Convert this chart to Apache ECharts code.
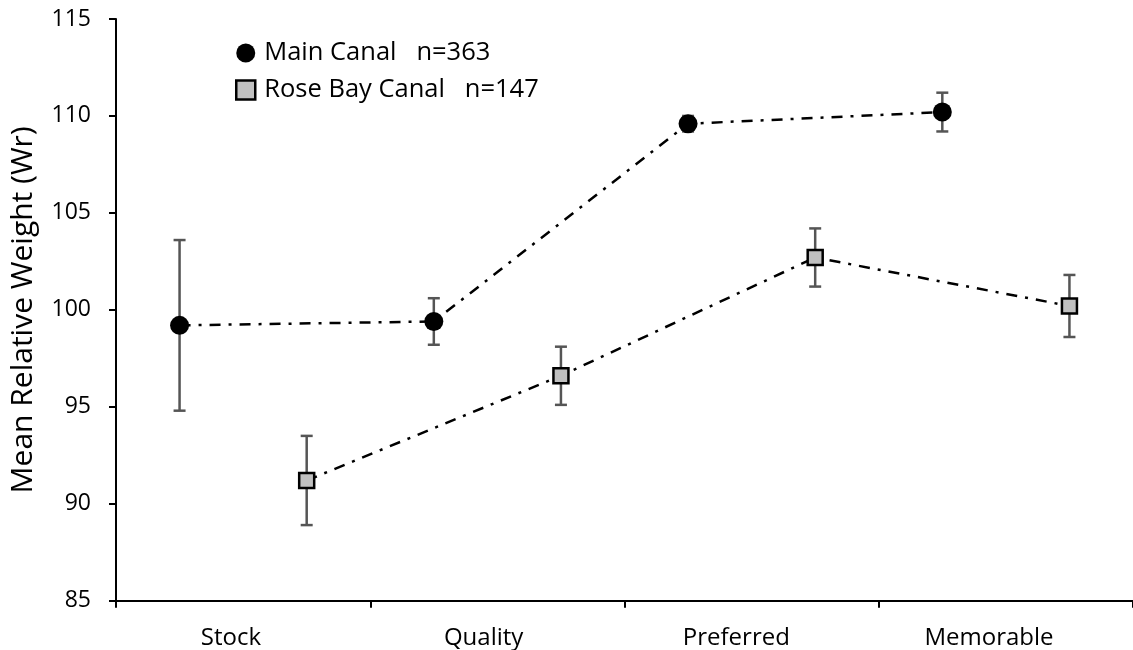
<!DOCTYPE html>
<html>
<head>
<meta charset="utf-8">
<script src="https://cdn.jsdelivr.net/npm/echarts@6/dist/echarts.min.js"></script>
<style>
  html, body { margin: 0; padding: 0; background: #fff; }
  #chart { width: 1133px; height: 650px; }
</style>
</head>
<body>
<div id="chart"></div>
<script>
// Mean relative weight (Wr) by size class, with error bars
const categories = ['Stock', 'Quality', 'Preferred', 'Memorable'];
const yTicks = [85, 90, 95, 100, 105, 110, 115];

const mainName = 'Main Canal   n=363';
const mainMean = [99.2, 99.4, 109.6, 110.2];
const mainErr  = [4.4, 1.2, 0.4, 1.0];

const roseName = 'Rose Bay Canal   n=147';
const roseMean = [91.2, 96.6, 102.7, 100.2];
const roseErr  = [2.3, 1.5, 1.5, 1.6];

// Within each category the two groups sit either side of the centre
const mainShift = 0.25;
const roseShift = 0.75;

const FONT = '"Open Sans", sans-serif';

function points(means, shift) {
  return means.map((v, i) => [i + shift, v]);
}
function errRows(means, errs, shift) {
  return means.map((v, i) => [i + shift, v - errs[i], v + errs[i]]);
}

// Vertical whisker with caps, drawn in data space
function renderErr(params, api) {
  const x = api.value(0);
  const lo = api.coord([x, api.value(1)]);
  const hi = api.coord([x, api.value(2)]);
  const half = 6;
  const style = { stroke: '#555555', lineWidth: 2.5, fill: null };
  return {
    type: 'group',
    children: [
      { type: 'line', shape: { x1: lo[0], y1: lo[1], x2: hi[0], y2: hi[1] }, style },
      { type: 'line', shape: { x1: lo[0] - half, y1: lo[1], x2: lo[0] + half, y2: lo[1] }, style },
      { type: 'line', shape: { x1: hi[0] - half, y1: hi[1], x2: hi[0] + half, y2: hi[1] }, style }
    ]
  };
}

const dashDot = [11, 8, 3, 8];

const chart = echarts.init(document.getElementById('chart'), null, { renderer: 'canvas' });

chart.setOption({
  animation: false,
  backgroundColor: '#ffffff',
  textStyle: { fontFamily: FONT, color: '#000' },
  grid: [
    { left: 113, right: -4, top: 19, bottom: 49.3, containLabel: false },
    // carries the category labels only
    { left: 104.6, right: 17.6, top: 19, bottom: 49.3, containLabel: false }
  ],
  legend: {
    orient: 'vertical',
    left: 230,
    top: 35,
    itemWidth: 19,
    itemHeight: 19,
    itemGap: 11,
    selectedMode: false,
    textStyle: { fontFamily: FONT, fontSize: 25.5, color: '#000', lineHeight: 26, padding: [0, 0, 0, 4] },
    data: [
      { name: mainName, icon: 'circle', itemStyle: { color: '#000', borderWidth: 0 } },
      { name: roseName, icon: 'rect', itemStyle: { color: '#c0c0c0', borderColor: '#000', borderWidth: 2.5 } }
    ]
  },
  xAxis: [
    {
      type: 'value',
      gridIndex: 0,
      min: 0,
      max: categories.length,
      interval: 1,
      axisLine: { show: true, onZero: false, lineStyle: { color: '#000', width: 2 } },
      axisTick: { show: true, inside: false, length: 7, lineStyle: { color: '#000', width: 2 } },
      axisLabel: { show: false },
      splitLine: { show: false }
    },
    {
      type: 'category',
      gridIndex: 1,
      data: categories,
      boundaryGap: true,
      axisLine: { show: false },
      axisTick: { show: false },
      axisLabel: { fontFamily: FONT, fontSize: 24, color: '#000', margin: 25, lineHeight: 24 },
      splitLine: { show: false }
    }
  ],
  yAxis: [
    {
      type: 'value',
      gridIndex: 0,
      min: yTicks[0],
      max: yTicks[yTicks.length - 1],
      interval: 5,
      name: 'Mean Relative Weight (Wr)',
      nameLocation: 'middle',
      nameGap: 78,
      nameTextStyle: { fontFamily: FONT, fontSize: 30, color: '#000' },
      axisLine: { show: true, lineStyle: { color: '#000', width: 2 } },
      axisTick: { show: true, inside: false, length: 7, lineStyle: { color: '#000', width: 2 } },
      axisLabel: { fontFamily: FONT, fontSize: 23, color: '#000', margin: 25 },
      splitLine: { show: false }
    },
    {
      type: 'value',
      gridIndex: 1,
      min: yTicks[0],
      max: yTicks[yTicks.length - 1],
      show: false
    }
  ],
  series: [
    {
      type: 'custom',
      name: 'mainErr',
      xAxisIndex: 0, yAxisIndex: 0,
      renderItem: renderErr,
      data: errRows(mainMean, mainErr, mainShift),
      z: 1,
      silent: true
    },
    {
      type: 'custom',
      name: 'roseErr',
      xAxisIndex: 0, yAxisIndex: 0,
      renderItem: renderErr,
      data: errRows(roseMean, roseErr, roseShift),
      z: 1,
      silent: true
    },
    {
      type: 'line',
      name: mainName,
      xAxisIndex: 0, yAxisIndex: 0,
      data: points(mainMean, mainShift),
      symbol: 'circle',
      symbolSize: 19,
      showAllSymbol: true,
      itemStyle: { color: '#000', borderWidth: 0 },
      lineStyle: { color: '#000', width: 2.5, type: dashDot },
      z: 3
    },
    {
      type: 'line',
      name: roseName,
      xAxisIndex: 0, yAxisIndex: 0,
      data: points(roseMean, roseShift),
      symbol: 'rect',
      symbolSize: 15,
      showAllSymbol: true,
      itemStyle: { color: '#c0c0c0', borderColor: '#000', borderWidth: 2.5 },
      lineStyle: { color: '#000', width: 2.5, type: dashDot },
      z: 3
    }
  ]
});
</script>
</body>
</html>
